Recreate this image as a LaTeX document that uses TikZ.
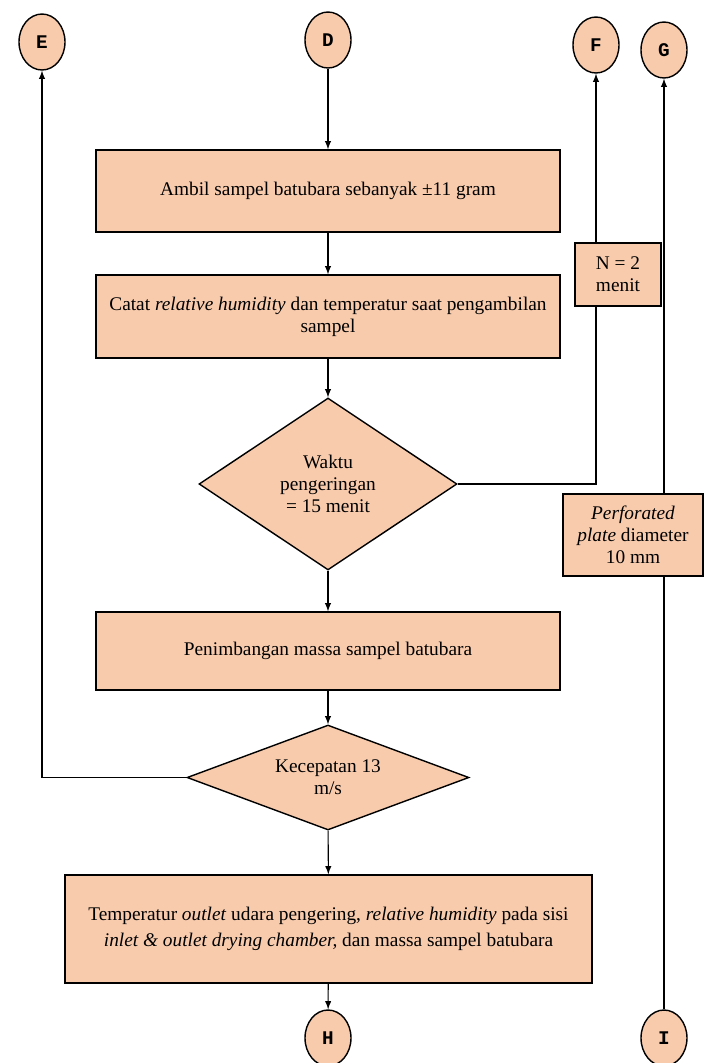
\documentclass[tikz,border=0pt]{standalone}
\usepackage{fontspec}
\setmainfont{Liberation Serif}
\newfontfamily\connfont{Liberation Mono}
\usetikzlibrary{shapes.geometric, positioning}
\definecolor{peach}{HTML}{F8CBAD}

\begin{document}
\begin{tikzpicture}[x=0.02cm, y=-0.02cm, >=latex,
    proc/.style={draw, rectangle, fill=peach, line width=0.8pt, align=center, inner sep=2pt,
        font=\fontsize{11}{12.5}\selectfont},
    dec/.style={draw, diamond, fill=peach, line width=0.8pt, align=center, inner sep=0pt,
        font=\fontsize{11}{12.5}\selectfont},
    conn/.style={draw, ellipse, fill=peach, line width=0.8pt, inner sep=0pt,
        minimum width=0.92cm, minimum height=1.12cm, font=\connfont\bfseries\fontsize{11}{11}\selectfont},
    flow/.style={line width=0.6pt}]
    \useasboundingbox (0, 0) rectangle (705, 1063);

    % connectors
    \node[conn] (E) at (42, 42) {E};
    \node[conn] (D) at (328, 40) {D};
    \node[conn] (F) at (596, 45) {F};
    \node[conn] (G) at (664, 50) {G};
    \node[conn] (H) at (328, 1038) {H};
    \node[conn] (I) at (664, 1038) {I};

    % main flow
    \node[proc, minimum width=9.28cm, minimum height=1.64cm] (ambil) at (328, 191) {Ambil sampel batubara sebanyak ±11 gram};
    \node[proc, minimum width=9.28cm, minimum height=1.66cm] (catat) at (328, 316.5)
        {Catat \textit{relative humidity} dan temperatur saat pengambilan\\sampel};
    \node[dec, aspect=1.5, minimum width=5.16cm, minimum height=3.44cm] (waktu) at (328, 484)
        {Waktu\\pengeringan\\= 15 menit};
    \node[proc, minimum width=9.28cm, minimum height=1.56cm] (timbang) at (328, 651) {Penimbangan massa sampel batubara};
    \node[dec, aspect=2.7, minimum width=5.64cm, minimum height=2.1cm] (kec) at (328, 777.5) {Kecepatan 13\\m/s};
    \node[proc, minimum width=10.54cm, minimum height=2.16cm] (ukur) at (328.5, 929)
        {Temperatur \textit{outlet} udara pengering, \textit{relative humidity} pada sisi\\[2pt]
         \textit{inlet \& outlet drying chamber,} dan massa sampel batubara};

    % side notes
    \node[proc, minimum width=1.72cm, minimum height=1.26cm] (menit) at (618, 274.5) {N = 2\\menit};
    \node[proc, minimum width=2.8cm, minimum height=1.64cm] (plat) at (633, 535)
        {\textit{Perforated}\\\textit{plate} diameter\\10 mm};

    \draw[flow, ->] (D) -- (ambil);
    \draw[flow, ->] (ambil) -- (catat);
    \draw[flow, ->] (catat) -- (waktu);
    \draw[flow, ->] (waktu) -- (timbang);
    \draw[flow, ->] (timbang) -- (kec);
    \draw[flow, ->] (kec) -- (ukur);
    \draw[flow, ->] (ukur) -- (H);
    \draw[flow, ->] (kec.west) -| (E.south);
    \draw[flow] (waktu.east) -| (F.south |- menit.south);
    \draw[flow, ->] (F.south |- menit.north) -- (F.south);
    \draw[flow] (I.north) -- (I.north |- plat.south);
    \draw[flow, ->] (G.south |- plat.north) -- (G.south);
\end{tikzpicture}
\end{document}
